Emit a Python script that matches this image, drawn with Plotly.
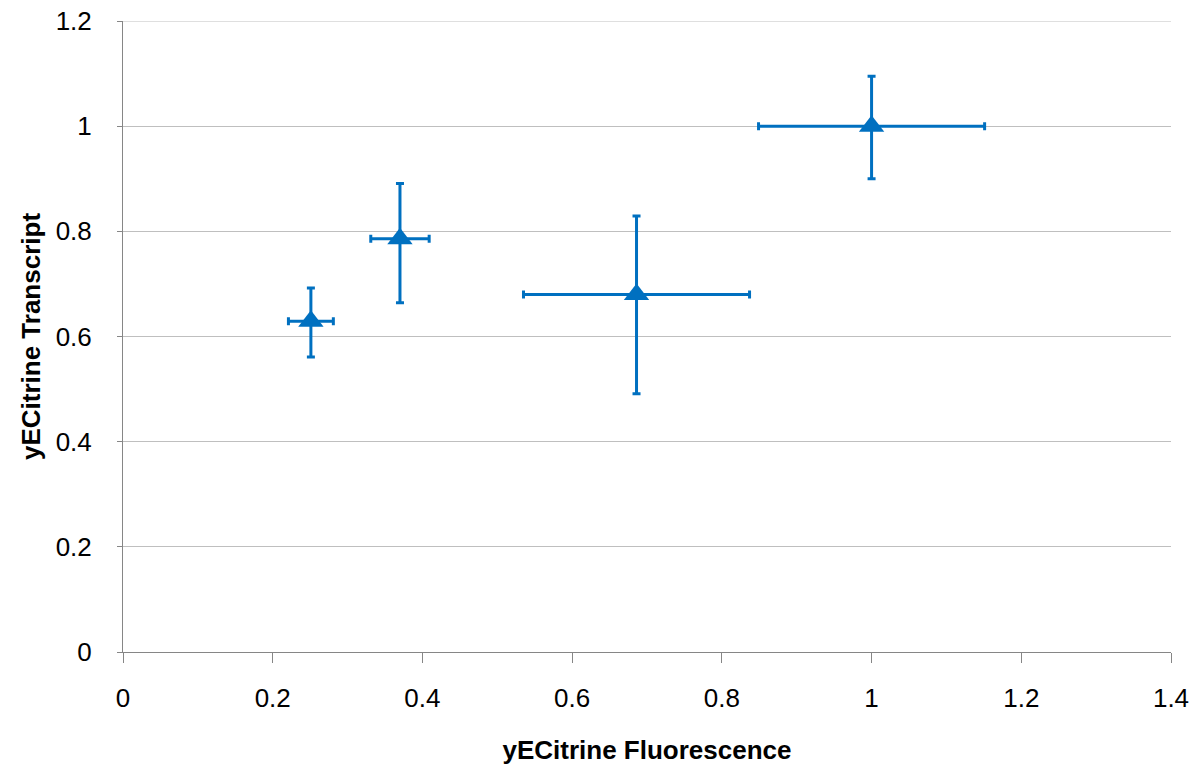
import plotly.graph_objects as go

fluorescence = [0.251, 0.370, 0.686, 1.000]
fluor_err = [0.030, 0.039, 0.151, 0.151]
transcript = [0.629, 0.786, 0.680, 1.000]
trans_err_plus = [0.063, 0.105, 0.149, 0.095]
trans_err_minus = [0.068, 0.122, 0.189, 0.100]

x_ticks = [0, 0.2, 0.4, 0.6, 0.8, 1, 1.2, 1.4]
y_ticks = [0, 0.2, 0.4, 0.6, 0.8, 1, 1.2]

blue = "#0070C0"
grid = "#BFBFBF"
font_family = "Liberation Sans, Arial, sans-serif"

fig = go.Figure()
fig.add_trace(go.Scatter(
    x=fluorescence, y=transcript, mode="markers",
    marker=dict(symbol="triangle-up", size=22, color=blue),
    error_x=dict(type="data", array=fluor_err, color=blue, thickness=3, width=4),
    error_y=dict(type="data", symmetric=False, array=trans_err_plus,
                 arrayminus=trans_err_minus, color=blue, thickness=3, width=4),
    showlegend=False,
))

# top gridline at the upper end of the y range
fig.add_shape(type="line", xref="paper", x0=0, x1=1, yref="y",
              y0=y_ticks[-1], y1=y_ticks[-1], line=dict(color=grid, width=1),
              layer="below")

fig.update_layout(
    width=1200, height=767,
    margin=dict(l=123, r=29, t=21, b=115),
    paper_bgcolor="white", plot_bgcolor="white",
    font=dict(family=font_family, color="#000000", size=26),
)
fig.update_xaxes(
    range=[0, 1.4], tickvals=x_ticks, ticktext=[f"{v:g}" for v in x_ticks],
    showgrid=False, zeroline=False, automargin=False,
    showline=True, linecolor="#868686", linewidth=1,
    ticks="outside", ticklen=10, tickcolor="#868686", tickwidth=1,
    ticklabelstandoff=13, tickfont=dict(size=26),
    title=dict(text="<b>yECitrine Fluorescence</b>", font=dict(size=26), standoff=28),
)
fig.update_yaxes(
    range=[0, 1.2], tickvals=y_ticks, ticktext=[f"{v:g}" for v in y_ticks],
    showgrid=True, gridcolor=grid, gridwidth=1, zeroline=False, automargin=False,
    showline=True, linecolor="#868686", linewidth=1,
    ticks="outside", ticklen=5, tickcolor="#868686", tickwidth=1,
    ticklabelstandoff=20, tickfont=dict(size=26),
    title=dict(text="<b>yECitrine Transcript</b>", font=dict(size=26), standoff=7),
)

fig.write_html("out.html", config={"displayModeBar": False},
               post_script="document.body.style.margin='0';document.body.style.padding='0';")
